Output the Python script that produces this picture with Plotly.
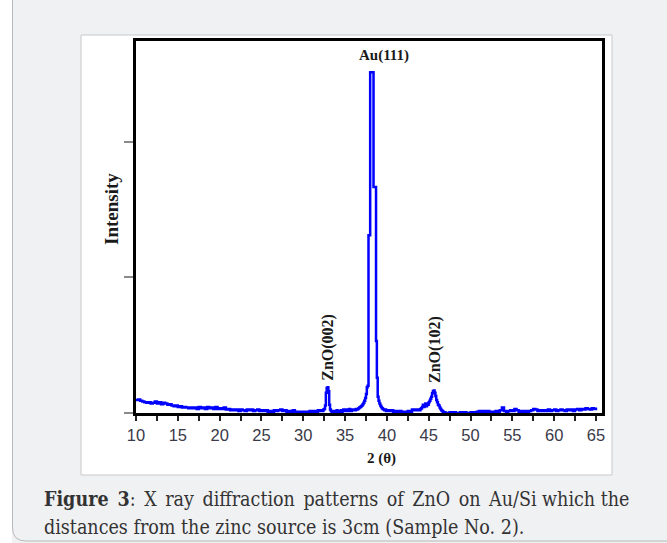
import numpy as np
import plotly.graph_objects as go

# ---- data: XRD scan (2θ in degrees, intensity in arbitrary units) ----
seg_a_start, seg_a_step = 10.0, 0.25
seg_a = [95, 100, 90, 85, 80, 75, 80, 70, 75, 85,
         70, 80, 65, 75, 70, 60, 65, 55, 50, 55,
         45, 50, 40, 45, 40, 35, 40, 35, 40, 30,
         45, 35, 40, 30, 45, 35, 40, 30, 45, 30,
         35, 30, 40, 25, 30, 20, 25, 20, 25, 15,
         25, 20, 15, 25, 20, 25, 15, 20, 25, 15,
         20, 15, 20, 10, 15, 10, 20, 15, 20, 25,
         15, 20, 10, 15, 10, 20, 10, 5, 10, 5,
         10, 5, 10, 15, 10, 15, 10, 20, 15]
seg_b_start, seg_b_step = 32.1, 0.1
seg_b = [15, 20, 15, 25, 30, 55, 150, 185, 190, 160,
         60, 25, 15, 10, 15, 10, 15, 10, 15, 20,
         10, 15, 10, 15, 20, 10, 15, 25, 15, 20,
         15, 25, 20, 15, 30, 20, 15, 20, 25, 20,
         25, 20, 30, 25, 30, 35, 40, 45, 50, 55,
         65, 75, 90, 110, 140, 190, 200, 1310, 1310, 2512,
         2512, 2512, 2512, 1665, 1665, 1665, 530, 260, 120, 90,
         70, 55, 45, 35, 30, 25, 20, 25, 15, 20]
seg_c_start, seg_c_step = 40.25, 0.25
seg_c = [15, 20, 10, 15, 10, 15, 10, 5, 10, 15, 10, 25, 20, 25, 20, 30]
seg_d_start, seg_d_step = 44.1, 0.1
seg_d = [35, 45, 60, 45, 55, 70, 50, 65, 60, 80,
         90, 105, 120, 145, 160, 165, 150, 125, 95, 80,
         60, 55, 40, 30, 20, 15, 10, 5, 5, 0]
seg_e_start, seg_e_step = 47.25, 0.25
seg_e = [0, 5, 0, 5, 0, 0, 5, 0, 5, 0,
         0, 5, 0, 5, 10, 15, 10, 15, 10, 15,
         10, 5, 10, 15, 10, 20, 40, 15, 10, 15,
         20, 15, 30, 20, 10, 15, 10, 15, 10, 15,
         20, 30, 25, 15, 20, 15, 20, 15, 25, 15,
         20, 25, 15, 20, 25, 20, 15, 25, 20, 25,
         15, 25, 30, 20, 30, 25, 35, 30, 25, 35,
         30, 40]

x_ticks = [10, 15, 20, 25, 30, 35, 40, 45, 50, 55, 60, 65]
y_ticks = [0, 1000, 2000]
peak_labels = ["Au(111)", "ZnO(002)", "ZnO(102)"]
peak_label_x = [39.65, 32.99, 45.75]
peak_label_y = [2632, 483, 472]
caption_1 = "<b>Figure 3</b>: X ray diffraction patterns of ZnO on Au/Si which the"
caption_2 = "distances from the zinc source is 3cm (Sample No. 2)."

segments = [(seg_a_start, seg_a_step, seg_a), (seg_b_start, seg_b_step, seg_b),
            (seg_c_start, seg_c_step, seg_c), (seg_d_start, seg_d_step, seg_d),
            (seg_e_start, seg_e_step, seg_e)]
two_theta, intensity = [], []
for s0, ds, vals in segments:
    two_theta += list(np.round(s0 + ds * np.arange(len(vals)), 3))
    intensity += vals

# ---- layout geometry (pixels) ----
W, H = 667, 543
L, R, T, B = 136, 65, 41, 130
PW, PH = W - L - R, H - T - B

def px(x):
    return (x - L) / PW

def py(y):
    return (H - B - y) / PH

fig = go.Figure()
fig.add_trace(go.Scatter(x=two_theta, y=intensity, mode="lines",
                         line=dict(color="#0000ff", width=2.5, shape="hv"),
                         hoverinfo="skip", showlegend=False))

serif_b = dict(family="Liberation Serif, Times New Roman, serif", color="#1a1a1a")

annotations = []
for i, (t, xv, yv) in enumerate(zip(peak_labels, peak_label_x, peak_label_y)):
    annotations.append(dict(x=xv, y=yv, xref="x", yref="y", text="<b>%s</b>" % t,
                            showarrow=False, textangle=0 if i == 0 else -90,
                            font=dict(size=15 if i == 0 else 16, **serif_b),
                            xanchor="center", yanchor="middle"))
annotations.append(dict(x=px(111), y=py(209), xref="paper", yref="paper",
                        text="<b>Intensity</b>", textangle=-90, showarrow=False,
                        font=dict(size=19, **serif_b), xanchor="center", yanchor="middle"))
annotations.append(dict(x=px(381), y=py(458), xref="paper", yref="paper",
                        text="<b>2 (θ)</b>", showarrow=False,
                        font=dict(size=15, **serif_b), xanchor="center", yanchor="middle"))
cap_font = dict(family="DejaVu Serif Condensed, DejaVu Serif, serif", size=19.5, color="#333333")
# line 1 is justified in the reference: widen its word gaps slightly
words = caption_1.split(" ")
line1 = words[0]
for k, w in enumerate(words[1:]):
    line1 += (" \u2006" if k < 9 else " ") + w
annotations.append(dict(x=px(42), y=py(499), xref="paper", yref="paper", text=line1,
                        showarrow=False, font=cap_font, xanchor="left", yanchor="middle"))
annotations.append(dict(x=px(42), y=py(527), xref="paper", yref="paper", text=caption_2,
                        showarrow=False, font=cap_font, xanchor="left", yanchor="middle"))

shapes = [
    dict(type="rect", xref="paper", yref="paper", x0=px(81), x1=px(612), y0=py(35), y1=py(475),
         fillcolor="white", line=dict(color="#c8c8c8", width=1), layer="below"),
    dict(type="rect", xref="paper", yref="paper", x0=px(-5), x1=px(12), y0=py(-5), y1=py(548),
         fillcolor="white", line=dict(width=0), layer="below"),
    dict(type="path", xref="paper", yref="paper",
         path="M %f,%f L %f,%f Q %f,%f %f,%f L %f,%f" % (
             px(12.5), py(-5), px(12.5), py(528), px(12.5), py(541), px(26), py(541), px(670), py(541)),
         line=dict(color="#b8b8b8", width=1), layer="below"),
]

fig.update_layout(
    width=W, height=H, margin=dict(l=L, r=R, t=T, b=B),
    paper_bgcolor="#f0f1f3", plot_bgcolor="white",
    annotations=annotations, shapes=shapes, showlegend=False,
    xaxis=dict(range=[10, 65.72], tickmode="array", tickvals=x_ticks,
               ticktext=[str(v) for v in x_ticks], ticks="outside", ticklen=5,
               tickwidth=1.5, tickcolor="#222", showgrid=False, zeroline=False,
               showline=True, linecolor="black", linewidth=3, mirror=True,
               tickfont=dict(family="Liberation Sans, Arial, sans-serif", size=16.5, color="#3a3a48"),
               minor=dict(dtick=2.5, tick0=10, ticks="outside", ticklen=5, tickwidth=1.5,
                          tickcolor="#222", showgrid=False)),
    yaxis=dict(range=[0, 2742], tickmode="array", tickvals=y_ticks, showticklabels=False,
               ticks="outside", ticklen=9, tickwidth=2, tickcolor="#8a8a8a",
               showgrid=False, zeroline=False, showline=True, linecolor="black",
               linewidth=3, mirror=True),
)

fig.write_html("out.html", config={"displayModeBar": False},
               post_script="document.body.style.margin='0';document.body.style.overflow='hidden';")
